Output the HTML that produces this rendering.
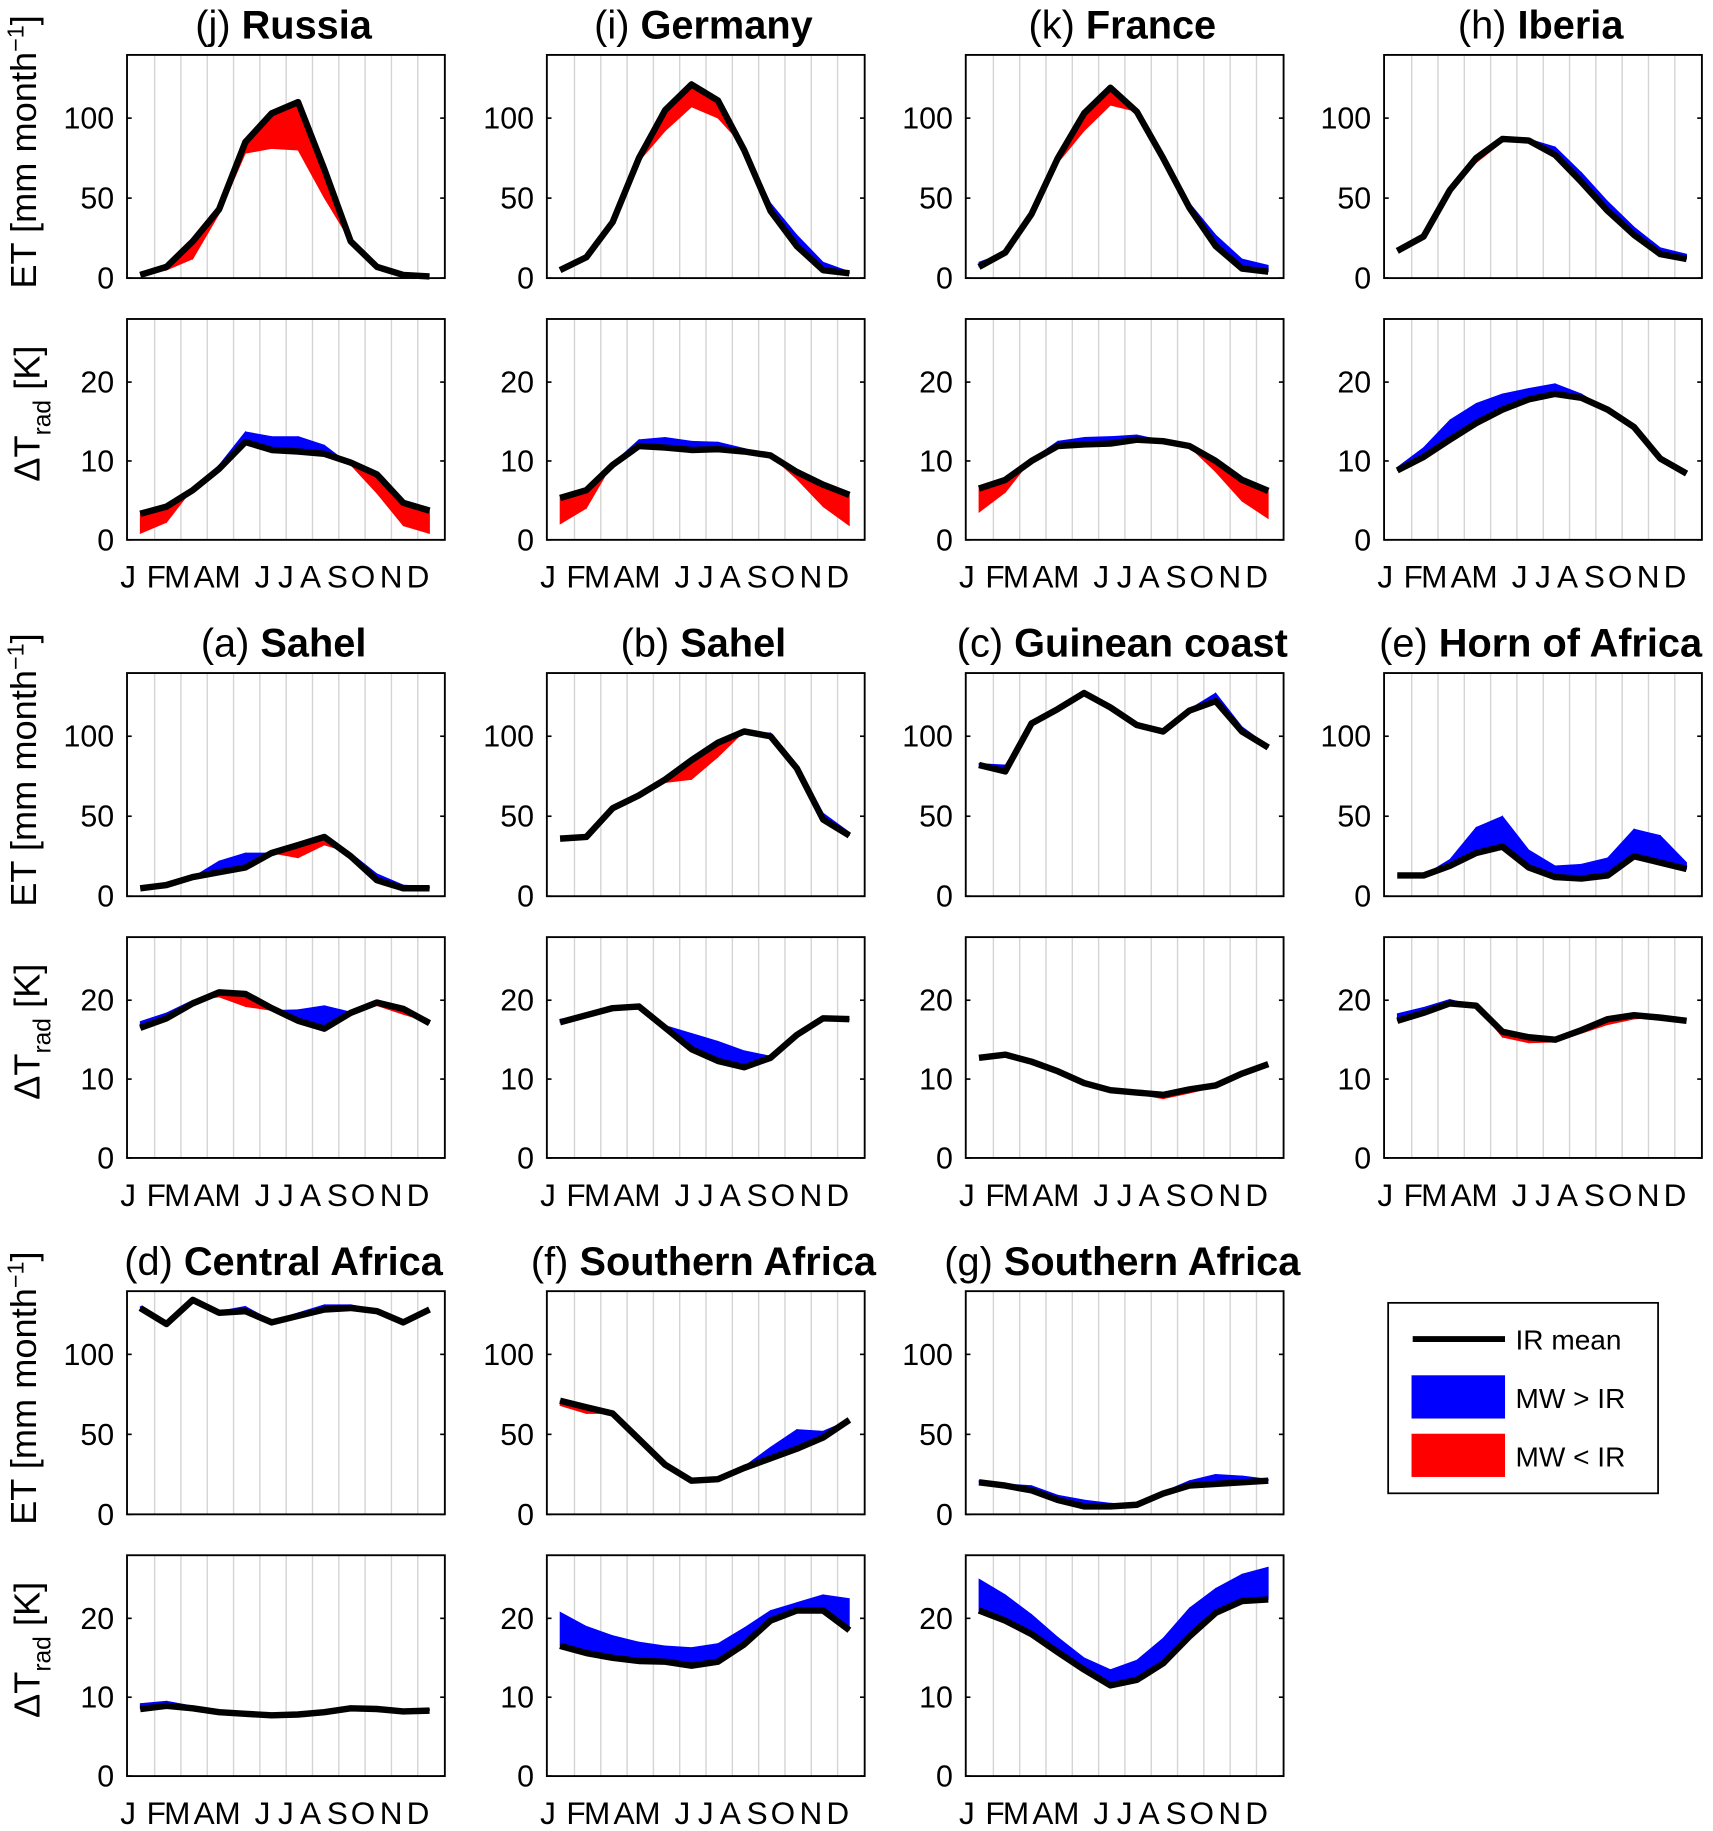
<!DOCTYPE html>
<html><head><meta charset="utf-8"><style>
html,body{margin:0;padding:0;background:#fff;}
svg{display:block;font-family:"Liberation Sans",Arial,sans-serif;}
</style></head><body>
<svg id="fig" xmlns="http://www.w3.org/2000/svg" width="1713" height="1831" viewBox="0 0 1466 1567" preserveAspectRatio="none">
<g>
 <text x="0" y="0" transform="translate(31,130) rotate(-90)" text-anchor="middle" font-size="31" fill="#000">ET [mm month<tspan dy="-11" font-size="20">−1</tspan><tspan dy="11">]</tspan></text>
 <text x="0" y="0" transform="translate(31,659) rotate(-90)" text-anchor="middle" font-size="31" fill="#000">ET [mm month<tspan dy="-11" font-size="20">−1</tspan><tspan dy="11">]</tspan></text>
 <text x="0" y="0" transform="translate(31,1188) rotate(-90)" text-anchor="middle" font-size="31" fill="#000">ET [mm month<tspan dy="-11" font-size="20">−1</tspan><tspan dy="11">]</tspan></text>
</g>
<g>
 <text x="0" y="0" transform="translate(34,354) rotate(-90)" text-anchor="middle" font-size="31" fill="#000">ΔT<tspan dy="9" font-size="21">rad</tspan><tspan dy="-9"> [K]</tspan></text>
 <text x="0" y="0" transform="translate(34,883) rotate(-90)" text-anchor="middle" font-size="31" fill="#000">ΔT<tspan dy="9" font-size="21">rad</tspan><tspan dy="-9"> [K]</tspan></text>
 <text x="0" y="0" transform="translate(34,1412) rotate(-90)" text-anchor="middle" font-size="31" fill="#000">ΔT<tspan dy="9" font-size="21">rad</tspan><tspan dy="-9"> [K]</tspan></text>
</g>
<g id="panels"></g>
<g>
 <rect x="1188" y="1115" width="231" height="163" fill="#fff" stroke="#000" stroke-width="1.5"/>
 <line x1="1209" y1="1146" x2="1288" y2="1146" stroke="#000" stroke-width="5"/>
 <text x="1297" y="1155" font-size="24">IR mean</text>
 <rect x="1208" y="1177" width="80" height="37" fill="#0000ff"/>
 <text x="1297" y="1205" font-size="24">MW &gt; IR</text>
 <rect x="1208" y="1227" width="80" height="37" fill="#ff0000"/>
 <text x="1297" y="1255" font-size="24">MW &lt; IR</text>
</g>
</svg>
<script>
const months = ["J","F","M","A","M","J","J","A","S","O","N","D"];
const panelIds = ["j","i","k","h","a","b","c","e","d","f","g"];
const panelLetters = ["(j)","(i)","(k)","(h)","(a)","(b)","(c)","(e)","(d)","(f)","(g)"];
const panelNames = ["Russia","Germany","France","Iberia","Sahel","Sahel","Guinean coast","Horn of Africa","Central Africa","Southern Africa","Southern Africa"];
const etTicks = [0,50,100];
const dtTicks = [0,10,20];
// ET IR mean
const etIR = [
 [2,7,23,43,85,103,110,68,23,7,2,1],
 [5,13,35,75,105,121,111,80,42,20,5,3],
 [7,16,40,75,103,119,104,75,44,20,6,4],
 [17,26,55,75,87,86,77,60,42,27,15,12],
 [5,7,12,15,18,27,32,37,25,10,5,5],
 [36,37,55,63,73,85,96,103,100,80,48,38],
 [82,78,108,117,127,118,107,103,116,122,103,93],
 [13,13,19,27,31,18,12,11,13,25,21,17],
 [129,119,134,126,127,120,124,128,129,127,120,128],
 [71,67,63,47,31,21,22,29,35,41,48,59],
 [20,18,15,9,5,5,6,13,18,19,20,21]
];
// ET MW
const etMW = [
 [2,5,12,40,78,81,80,50,23,9,2,1],
 [5,13,35,73,92,107,100,82,47,27,10,4],
 [10,16,40,72,92,108,104,75,47,27,12,8],
 [17,26,53,72,85,87,82,66,48,32,19,15],
 [5,7,12,22,27,27,24,32,27,14,7,6],
 [36,37,55,63,71,73,87,103,102,82,52,40],
 [83,82,108,117,127,118,108,103,117,127,106,94],
 [13,13,23,43,50,29,19,20,24,42,38,21],
 [130,119,134,127,130,121,126,131,131,128,121,128],
 [68,63,63,47,31,21,22,30,42,53,52,59],
 [21,19,18,12,9,7,6,14,21,25,24,22]
];
// dTrad IR mean
const dtIR = [
 [3.3,4.2,6.3,9,12.4,11.4,11.2,10.9,9.8,8.3,4.7,3.7],
 [5.3,6.3,9.5,11.9,11.7,11.4,11.5,11.2,10.7,8.6,7,5.7],
 [6.5,7.6,10,11.9,12.1,12.2,12.7,12.5,11.9,10,7.6,6.2],
 [8.8,10.5,12.7,14.8,16.5,17.8,18.5,18,16.5,14.3,10.3,8.4],
 [16.5,17.7,19.6,21,20.8,19,17.4,16.4,18.4,19.7,18.9,17.1],
 [17.2,18.1,19,19.2,16.5,13.8,12.3,11.5,12.7,15.6,17.7,17.6],
 [12.7,13.1,12.2,11,9.5,8.6,8.3,8,8.7,9.2,10.7,11.9],
 [17.4,18.4,19.6,19.3,16,15.3,15,16.2,17.6,18.1,17.8,17.4],
 [8.5,8.9,8.6,8.1,7.9,7.7,7.8,8.1,8.6,8.5,8.2,8.3],
 [16.5,15.6,15,14.6,14.5,14,14.5,16.7,19.7,21,21,18.5],
 [21,19.7,18,15.7,13.5,11.5,12.2,14.3,17.7,20.7,22.2,22.4]
];
// dTrad MW
const dtMW = [
 [0.8,2.2,6.5,9.5,13.7,13.1,13.1,12,9.5,5.9,1.8,0.8],
 [2,4,9.7,12.7,13,12.5,12.4,11.6,10.7,7.7,4.2,1.8],
 [3.5,6,10.2,12.5,13,13.1,13.3,12.6,11.8,8.6,4.9,2.7],
 [9.2,11.7,15.2,17.3,18.5,19.2,19.8,18.5,16.5,14.3,10.3,8.4],
 [17.3,18.4,20,20.4,19.2,18.7,18.8,19.3,18.5,19.3,18.2,17.2],
 [17.6,18.2,19,19.2,16.8,15.8,14.8,13.6,12.9,15.6,17.7,17.5],
 [12.7,13.1,12.4,11.3,9.5,8.6,8.1,7.5,8.2,9,10.7,11.9],
 [18.3,19.1,20.1,19.3,15.3,14.6,14.7,15.8,16.9,17.6,17.9,17.4],
 [9.2,9.5,8.9,8.2,7.9,7.7,7.7,7.9,8.5,8.5,8.3,8.5],
 [20.8,19,17.8,17,16.5,16.3,16.8,18.8,21,22,23,22.5],
 [25,23,20.5,17.6,15,13.5,14.7,17.5,21.3,23.8,25.6,26.5]
];

const NS = "http://www.w3.org/2000/svg";
const root = document.getElementById("panels");
const colLeft = [108.7,468,826.5,1184.5];
const AW = 272;
const rowOff = 529;
const monthLabelOff = [1,25,43,66,86,116,136,157,180,202,226,249];
function mk(tag, attrs, parent){
  const e = document.createElementNS(NS, tag);
  for (const k in attrs) e.setAttribute(k, attrs[k]);
  parent.appendChild(e);
  return e;
}
function drawAxes(g, L, T, B, ymax, ticks, ir, mw, kind, showMonths){
  const xs = m => L + (m + 0.5) * AW / 12.08;
  const ys = v => B - v / ymax * (B - T);
  for (let j = 0; j < 11; j++) {
    const gx = xs(j + 0.55);
    const gl = mk("line", {x1:gx, x2:gx, y1:T, y2:B, stroke:"#d4d4d4", "stroke-width":1.2}, g);
    
    
  }
  for (let m = 0; m < 11; m++) {
    const d0 = mw[m] - ir[m], d1 = mw[m+1] - ir[m+1];
    const segs = [];
    if (d0 * d1 >= 0) {
      segs.push([[m, ir[m]], [m+1, ir[m+1]], [m+1, mw[m+1]], [m, mw[m]], (d0 + d1) >= 0]);
    } else {
      const t = d0 / (d0 - d1);
      const xm = m + t, ym = ir[m] + t * (ir[m+1] - ir[m]);
      segs.push([[m, ir[m]], [xm, ym], [xm, ym], [m, mw[m]], d0 > 0]);
      segs.push([[xm, ym], [m+1, ir[m+1]], [m+1, mw[m+1]], [xm, ym], d1 > 0]);
    }
    segs.forEach(s => {
      const col = s[4] ? "#0000ff" : "#ff0000";
      const pts = s.slice(0,4).map(p => xs(p[0]).toFixed(1) + "," + ys(p[1]).toFixed(1)).join(" ");
      const p = mk("polygon", {points: pts, fill: col, stroke: col, "stroke-width": 0.6}, g);
      
      
    });
  }
  const line = mk("polyline", {points: ir.map((v, m) => xs(m).toFixed(1) + "," + ys(v).toFixed(1)).join(" "), fill:"none", stroke:"#000", "stroke-width":5.5, "stroke-linejoin":"round"}, g);
  
  
  const box = mk("rect", {x:L, y:T, width:AW, height:B-T, fill:"none", stroke:"#000", "stroke-width":1.6}, g);
  
  
  ticks.forEach(v => {
    const y = ys(v);
    mk("line", {x1:L, x2:L+4, y1:y, y2:y, stroke:"#000", "stroke-width":1.4}, g);
    mk("line", {x1:L+AW-4, x2:L+AW, y1:y, y2:y, stroke:"#000", "stroke-width":1.4}, g);
    const tl = mk("text", {x:L-11, y:y+9, "text-anchor":"end", "font-size":26}, g);
    tl.textContent = v;
    
    
  });
  if (showMonths) {
    months.forEach((mo, i) => {
      const t = mk("text", {x:L + monthLabelOff[i], y:B + 41, "text-anchor":"middle", "font-size":27}, g);
      t.textContent = mo;
      
      
    });
  }
}
panelIds.forEach((id, p) => {
  const row = Math.floor(p / 4), col = p % 4;
  const L = colLeft[col], off = row * rowOff;
  const g = mk("g", {}, root);
  
  
  const title = mk("text", {x: L + AW/2 - 2, y: 33 + off, "text-anchor":"middle", "font-size":34}, g);
  
  
  const t1 = mk("tspan", {}, title); t1.textContent = panelLetters[p] + " ";
  const t2 = mk("tspan", {"font-weight":"bold"}, title); t2.textContent = panelNames[p];
  const ge = mk("g", {}, g);
  
  
  drawAxes(ge, L, 47 + off, 238 + off, 139.5, etTicks, etIR[p], etMW[p], "et", false);
  const gd = mk("g", {}, g);
  
  
  drawAxes(gd, L, 273 + off, 462 + off, 28, dtTicks, dtIR[p], dtMW[p], "dtrad", true);
});
</script>
</body></html>
